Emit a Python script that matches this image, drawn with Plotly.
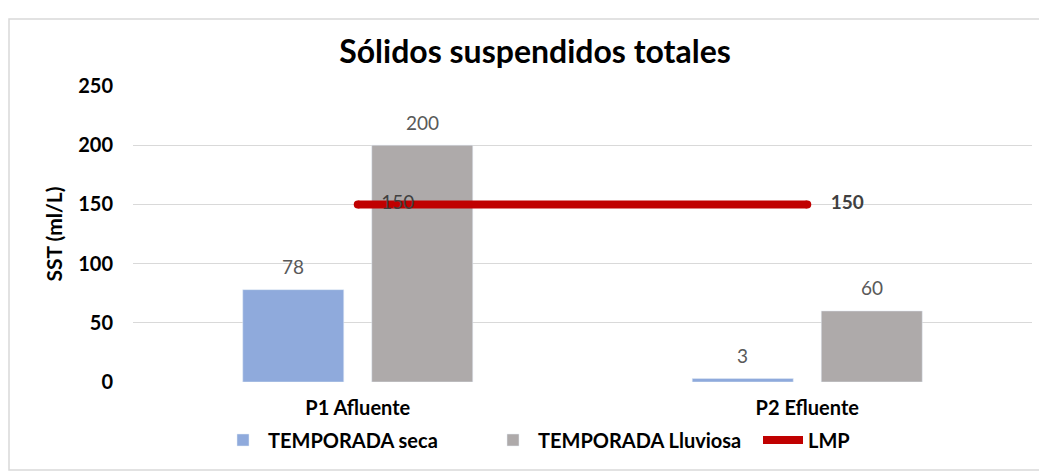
import plotly.graph_objects as go

categories = ["P1 Afluente", "P2 Efluente"]
seca = [78, 3]
lluviosa = [200, 60]
lmp = [150, 150]
y_ticks = [0, 50, 100, 150, 200, 250]

FONT = "Lato, Carlito, 'Liberation Sans', sans-serif"
W, H = 1039, 464
L, R, T, B = 125, 15, 78, 90
pw = W - L - R
ph = H - T - B
BARGAP = 0.426
GROUPGAP = 0.217

def px(x):
    return (x - L) / pw

def py(y):
    return (H - B - y) / ph

fig = go.Figure()
fig.add_trace(go.Bar(
    x=categories, y=seca, name="TEMPORADA seca",
    marker_color="#8faadc",
))
fig.add_trace(go.Bar(
    x=categories, y=lluviosa, name="TEMPORADA Lluviosa",
    marker_color="#aeaaaa",
))
fig.add_trace(go.Scatter(
    x=categories, y=lmp, name="LMP",
    mode="lines+markers",
    line=dict(color="#c00000", width=8),
    marker=dict(color="#c00000", size=8),
    cliponaxis=False,
))
# data labels of LMP line
fig.add_trace(go.Scatter(
    x=categories, y=lmp, showlegend=False,
    mode="markers+text",
    marker=dict(color="rgba(0,0,0,0)", size=36),
    text=[str(lmp[0]), "<b>" + str(lmp[1]) + "</b>"],
    textposition="middle right",
    textfont=dict(size=19, color="#404040", family=FONT),
    cliponaxis=False, hoverinfo="skip",
))

# bar data labels (above each bar, offset by the group slot)
cat_px = pw / len(categories)
slot = cat_px * (1 - BARGAP) / 2
annotations = []
for series, sign in ((seca, -1), (lluviosa, 1)):
    for c, v in zip(categories, series):
        annotations.append(dict(
            x=c, y=v, xref="x", yref="y", text=str(v), showarrow=False,
            xshift=sign * slot / 2, yshift=23, yanchor="middle",
            font=dict(size=19, color="#595959", family=FONT)))

fig.update_layout(
    width=W, height=H,
    margin=dict(l=L, r=R, t=T, b=B),
    paper_bgcolor="white", plot_bgcolor="white",
    font=dict(family=FONT, color="black"),
    barmode="group", bargap=BARGAP, bargroupgap=GROUPGAP,
    annotations=annotations,
    title=dict(text="<b>Sólidos suspendidos totales</b>", x=(527 / W), xanchor="center",
               y=1 - 44 / H, yanchor="middle",
               font=dict(size=32, family=FONT, color="black")),
    xaxis=dict(showgrid=False, showline=False, ticks="", ticklen=0,
               ticklabelstandoff=12,
               tickfont=dict(size=20, family=FONT, color="black", weight="bold")),
    yaxis=dict(range=[0, 250], tickvals=y_ticks, showgrid=True, gridcolor="#d9d9d9",
               gridwidth=1.3, zeroline=False, showline=False, ticks="", ticklen=0,
               ticklabelstandoff=19,
               tickfont=dict(size=20, family=FONT, color="black", weight="bold"),
               title=dict(text="<b>SST (ml/L)</b>", standoff=9,
                          font=dict(size=21, family=FONT, color="black"))),
    showlegend=True,
    legend=dict(orientation="h", x=px(210), xanchor="left", y=py(432), yanchor="middle",
                font=dict(size=20, family=FONT, color="black", weight="bold"),
                traceorder="normal", itemwidth=40, entrywidth=215, entrywidthmode="pixels",
                bgcolor="rgba(0,0,0,0)"),
    shapes=[dict(type="rect", xref="paper", yref="paper",
                 x0=px(1), x1=px(1032), y0=py(462), y1=py(11),
                 line=dict(color="#d9d9d9", width=1.5), fillcolor="rgba(0,0,0,0)", layer="below")],
)

fig.write_html("out.html")
